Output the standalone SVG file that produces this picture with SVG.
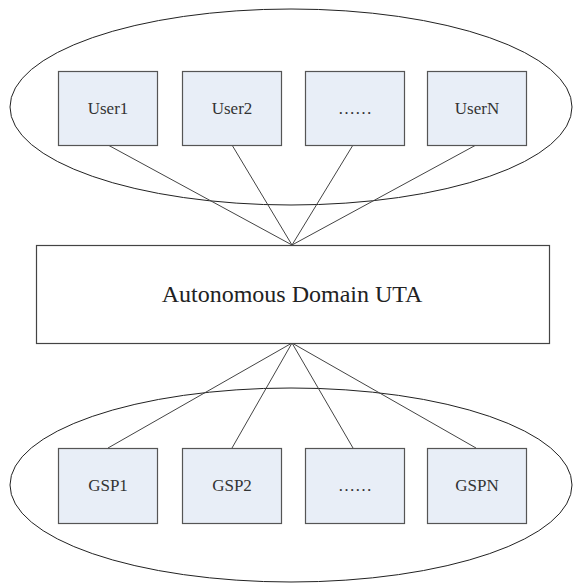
<svg xmlns="http://www.w3.org/2000/svg" width="573" height="583" viewBox="0 0 573 583">
<style>
.ell{fill:none;stroke:#222;stroke-width:1}
.box{fill:#e8eef7;stroke:#555;stroke-width:1.2}
.main{fill:#fff;stroke:#444;stroke-width:1.2}
.lbl{font-family:"Liberation Serif","Times New Roman",serif;font-size:17px;fill:#333;text-anchor:middle}
.big{font-family:"Liberation Serif","Times New Roman",serif;font-size:24px;fill:#222;text-anchor:middle}
.con{stroke:#444;stroke-width:1;fill:none}
</style>
<rect width="573" height="583" fill="#fff"/>
<ellipse id="users-domain" class="ell" cx="291" cy="107" rx="281" ry="98"/>
<ellipse id="gsp-domain" class="ell" cx="291" cy="485" rx="281" ry="97"/>
<g id="connectors">
<line class="con" x1="108" y1="145" x2="292" y2="245"/>
<line class="con" x1="232" y1="145" x2="292" y2="245"/>
<line class="con" x1="353" y1="145" x2="292" y2="245"/>
<line class="con" x1="476" y1="145" x2="292" y2="245"/>
<line class="con" x1="108" y1="448" x2="292" y2="343"/>
<line class="con" x1="232" y1="448" x2="292" y2="343"/>
<line class="con" x1="353" y1="448" x2="292" y2="343"/>
<line class="con" x1="476" y1="448" x2="292" y2="343"/>
</g>
<g id="user1"><rect class="box" x="58.5" y="71.5" width="99" height="74"/><text class="lbl" x="108" y="114">User1</text></g>
<g id="user2"><rect class="box" x="182.5" y="71.5" width="99" height="74"/><text class="lbl" x="232" y="114">User2</text></g>
<g id="user-dots"><rect class="box" x="305.5" y="71.5" width="99" height="74"/><text class="lbl" x="355" y="114">……</text></g>
<g id="userN"><rect class="box" x="427.5" y="71.5" width="99" height="74"/><text class="lbl" x="477" y="114">UserN</text></g>
<g id="uta"><rect class="main" x="36.5" y="245.5" width="513" height="98"/><text class="big" x="292" y="302">Autonomous Domain UTA</text></g>
<g id="gsp1"><rect class="box" x="58.5" y="448.5" width="99" height="75"/><text class="lbl" x="108" y="491">GSP1</text></g>
<g id="gsp2"><rect class="box" x="182.5" y="448.5" width="99" height="75"/><text class="lbl" x="232" y="491">GSP2</text></g>
<g id="gsp-dots"><rect class="box" x="305.5" y="448.5" width="99" height="75"/><text class="lbl" x="355" y="491">……</text></g>
<g id="gspN"><rect class="box" x="427.5" y="448.5" width="99" height="75"/><text class="lbl" x="477" y="491">GSPN</text></g>
</svg>
